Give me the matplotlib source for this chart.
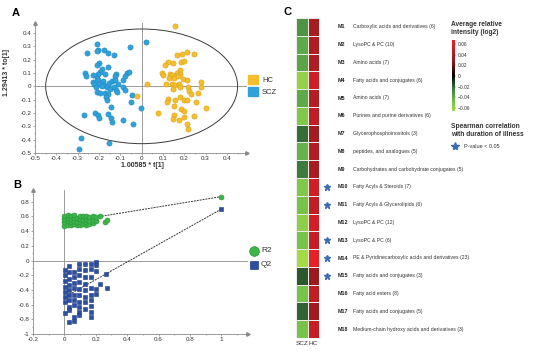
import numpy as np
import matplotlib
matplotlib.use('Agg')
import matplotlib.pyplot as plt
from matplotlib.patches import Ellipse, Rectangle
from matplotlib.colors import LinearSegmentedColormap, Normalize
from matplotlib.ticker import AutoMinorLocator
from matplotlib.lines import Line2D
import matplotlib.cm as cm

plt.rcParams['font.family'] = ['Liberation Sans', 'DejaVu Sans']
plt.rcParams['axes.unicode_minus'] = False

# ---------------- Data ----------------
# Panel A: OPLS-DA scores
scz_t = [-0.208, -0.203, -0.208, -0.258, -0.175, -0.156, -0.131, -0.055, -0.200, -0.207,
         -0.160, -0.188, -0.194, -0.203, -0.172, -0.266, -0.263, -0.227, -0.211, -0.120,
         -0.125, -0.070, -0.059, -0.078, -0.227, -0.203, -0.180, -0.175, -0.153, -0.141,
         -0.125, -0.110, -0.086, -0.222, -0.200, -0.214, -0.188, -0.164, -0.149, -0.128,
         -0.122, -0.117, -0.086, -0.078, -0.207, -0.196, -0.172, -0.160, -0.167, -0.161,
         -0.146, -0.047, -0.050, -0.269, -0.219, -0.203, -0.200, -0.160, -0.144, -0.141,
         -0.088, -0.042, -0.282, -0.293, -0.153, 0.020, -0.003]
scz_to = [0.320, 0.275, 0.265, 0.250, 0.270, 0.253, 0.235, 0.295, 0.175, 0.158,
          0.145, 0.133, 0.108, 0.095, 0.095, 0.100, 0.075, 0.083, 0.065, 0.095,
          0.075, 0.100, 0.108, 0.075, 0.033, 0.045, 0.040, 0.008, 0.025, 0.040,
          0.045, 0.020, 0.045, 0.015, 0.020, -0.005, 0.005, -0.005, -0.018, -0.005,
          -0.030, -0.043, -0.005, -0.030, -0.043, -0.050, -0.050, -0.060, -0.080, -0.105,
          -0.155, -0.068, -0.118, -0.213, -0.198, -0.218, -0.235, -0.205, -0.235, -0.268,
          -0.255, -0.285, -0.385, -0.468, -0.425, 0.330, -0.160]
hc_t = [0.156, 0.164, 0.188, 0.214, 0.246, 0.125, 0.110, 0.149, 0.183, 0.200,
        0.180, 0.097, 0.102, 0.133, 0.141, 0.164, 0.180, 0.130, 0.152, 0.172,
        0.195, 0.211, 0.279, 0.023, 0.114, 0.141, 0.156, 0.177, 0.146, 0.180,
        0.219, 0.279, 0.224, 0.230, 0.266, -0.020, 0.125, 0.117, 0.156, 0.180,
        0.200, 0.211, 0.255, 0.152, 0.075, 0.185, 0.199, 0.302, 0.152, 0.146,
        0.177, 0.199, 0.246, 0.211, 0.219]
hc_to = [0.453, 0.238, 0.245, 0.258, 0.245, 0.183, 0.158, 0.175, 0.183, 0.190,
         0.125, 0.100, 0.083, 0.095, 0.083, 0.100, 0.095, 0.065, 0.065, 0.075,
         0.058, 0.045, 0.033, 0.020, 0.015, 0.020, 0.008, 0.020, -0.018, -0.005,
         -0.005, -0.005, -0.035, -0.055, -0.050, -0.075, -0.093, -0.118, -0.100, -0.080,
         -0.100, -0.105, -0.118, -0.150, -0.200, -0.168, -0.185, -0.160, -0.218, -0.243,
         -0.250, -0.230, -0.225, -0.280, -0.318]

# Panel B: permutation test
r2_x = [0, 0, 0, 0, 0.02, 0.02, 0.02, 0.02, 0.04, 0.04, 0.04, 0.04, 0.06, 0.06, 0.06, 0.06,
        0.08, 0.08, 0.08, 0.10, 0.10, 0.10, 0.10, 0.12, 0.12, 0.12, 0.14, 0.14, 0.14, 0.14,
        0.16, 0.16, 0.16, 0.18, 0.18, 0.18, 0.20, 0.20, 0.23, 0.26, 0.27, 1.0]
r2_y = [0.47, 0.52, 0.56, 0.60, 0.49, 0.54, 0.58, 0.62, 0.48, 0.52, 0.57, 0.61, 0.50, 0.54, 0.58, 0.62,
        0.48, 0.53, 0.58, 0.49, 0.53, 0.57, 0.61, 0.50, 0.55, 0.60, 0.48, 0.52, 0.56, 0.60,
        0.50, 0.54, 0.59, 0.51, 0.55, 0.60, 0.54, 0.59, 0.60, 0.52, 0.55, 0.87]
q2_x = [0.002] * 8 + [0.028] * 10 + [0.06] * 9 + [0.092] * 10 + [0.131] * 8 + [0.168] * 9 + [0.2] * 5 \
       + [0.228, 0.265, 0.269, 1.0]
q2_y = [-0.135, -0.203, -0.284, -0.36, -0.428, -0.495, -0.563, -0.712,
        -0.068, -0.158, -0.248, -0.338, -0.405, -0.473, -0.54, -0.63, -0.676, -0.833,
        -0.158, -0.225, -0.302, -0.374, -0.464, -0.54, -0.608, -0.766, -0.82,
        -0.045, -0.122, -0.203, -0.293, -0.383, -0.473, -0.563, -0.63, -0.698, -0.743,
        -0.045, -0.135, -0.225, -0.315, -0.405, -0.495, -0.563, -0.653,
        -0.045, -0.122, -0.225, -0.374, -0.473, -0.54, -0.617, -0.698, -0.766,
        -0.014, -0.059, -0.149, -0.383, -0.45,
        -0.315, -0.18, -0.369, 0.70]
r2_intercept = 0.52
q2_intercept = -0.50

# Panel C: heatmap
module_ids = ['M1', 'M2', 'M3', 'M4', 'M5', 'M6', 'M7', 'M8', 'M9', 'M10', 'M11', 'M12',
              'M13', 'M14', 'M15', 'M16', 'M17', 'M18']
module_names = ['Carboxylic acids and derivatives (6)', 'LysoPC & PC (10)', 'Amino acids (7)',
                'Fatty acids and conjugates (6)', 'Amino acids (7)', 'Purines and purine derivatives (6)',
                'Glycerophosphoinositols (3)', 'peptides, and analogues (5)',
                'Carbohydrates and carbohydrate conjugates (5)', 'Fatty Acyls & Steroids (7)',
                'Fatty Acyls & Glycerolipids (6)', 'LysoPC & PC (12)', 'LysoPC & PC (6)',
                'PE & Pyridinecarboxylic acids and derivatives (23)', 'Fatty acids and conjugates (3)',
                'Fatty acid esters (8)', 'Fatty acids and conjugates (5)',
                'Medium-chain hydroxy acids and derivatives (3)']
scz_vals = [-0.033, -0.040, -0.038, -0.060, -0.040, -0.053, -0.022, -0.043, -0.025, -0.053,
            -0.050, -0.058, -0.050, -0.066, -0.018, -0.050, -0.020, -0.050]
hc_vals = [0.040, 0.043, 0.042, 0.055, 0.045, 0.050, 0.038, 0.045, 0.040, 0.055,
           0.050, 0.057, 0.052, 0.065, 0.034, 0.050, 0.037, 0.052]
significant = [False] * 9 + [True, True, False, True, True, True, False, False, False]
cbar_ticks = [0.06, 0.04, 0.02, 0, -0.02, -0.04, -0.06]

# ---------------- Figure ----------------
W, H = 553, 356
fig = plt.figure(figsize=(W / 100, H / 100), dpi=100)


def fr(l, t, r, b):
    return [l / W, 1 - b / H, (r - l) / W, (b - t) / H]


def fmt(v):
    if abs(v) < 1e-9:
        return '0'
    return f'{v:.1f}'


axis_col = '#8a8a8a'
tick_fs = 4.5

# ---- Panel A ----
axA = fig.add_axes(fr(35, 23, 247, 153))
axA.set_xlim(-0.5, 0.494)
axA.set_ylim(-0.5, 0.475)
for s in ['top', 'right']:
    axA.spines[s].set_visible(False)
for s in ['left', 'bottom']:
    axA.spines[s].set_color(axis_col)
    axA.spines[s].set_linewidth(0.6)
axA.axhline(0, color=axis_col, lw=0.6, zorder=1)
axA.axvline(0, color=axis_col, lw=0.6, zorder=1)
axA.add_patch(Ellipse((0, 0), 0.9, 0.86, fill=False, edgecolor='#3a3a3a', lw=0.7, zorder=2))
axA.scatter(scz_t, scz_to, s=14, color='#2FA2DB', edgecolors='#1C86BF', linewidths=0.4, zorder=3)
axA.scatter(hc_t, hc_to, s=14, color='#F4BE2C', edgecolors='#D9A01A', linewidths=0.4, zorder=3)
xt = np.round(np.arange(-0.5, 0.41, 0.1), 2)
yt = np.round(np.arange(-0.5, 0.41, 0.1), 2)
axA.set_xticks(xt)
axA.set_xticklabels([fmt(v) for v in xt])
axA.set_yticks(yt)
axA.set_yticklabels([fmt(v) for v in yt])
axA.xaxis.set_minor_locator(AutoMinorLocator(2))
axA.yaxis.set_minor_locator(AutoMinorLocator(2))
axA.tick_params(which='both', labelsize=tick_fs, colors=axis_col, labelcolor='#333333', length=1.6, width=0.5, pad=0.8)
axA.tick_params(which='minor', length=1.0)
axA.plot(1, 0, '>', transform=axA.transAxes, clip_on=False, ms=2.5, color=axis_col)
axA.plot(0, 1, '^', transform=axA.transAxes, clip_on=False, ms=2.5, color=axis_col)
fig.text(142 / W, 1 - 165 / H, '1.00585 * t[1]', fontsize=5.0, fontweight='bold', ha='center', va='center', color='#333333')
fig.text(7 / W, 1 - 72 / H, '1.29413 * to[1]', fontsize=5.0, fontweight='bold', ha='center', va='center',
         rotation=90, color='#333333')
# legend A
fig.patches.append(Rectangle((248 / W, 1 - 84 / H), 10 / W, 9 / H, transform=fig.transFigure,
                             color='#F4BE2C', figure=fig))
fig.patches.append(Rectangle((248 / W, 1 - 96 / H), 10 / W, 9 / H, transform=fig.transFigure,
                             color='#2FA2DB', figure=fig))
fig.text(262 / W, 1 - 80 / H, 'HC', fontsize=5.5, ha='left', va='center', color='#333333')
fig.text(262 / W, 1 - 92 / H, 'SCZ', fontsize=5.5, ha='left', va='center', color='#333333')

# ---- Panel B ----
axB = fig.add_axes(fr(33, 190, 248, 334))
axB.set_xlim(-0.2, 1.17)
axB.set_ylim(-1, 0.96)
for s in ['top', 'right']:
    axB.spines[s].set_visible(False)
for s in ['left', 'bottom']:
    axB.spines[s].set_color(axis_col)
    axB.spines[s].set_linewidth(0.6)
axB.axhline(0, color=axis_col, lw=0.6, zorder=1)
axB.axvline(0, color=axis_col, lw=0.6, zorder=1)
axB.plot([0, 1], [r2_intercept, r2_y[-1]], color='#333333', lw=0.7, dashes=(2, 1), zorder=2)
axB.plot([0, 1], [q2_intercept, q2_y[-1]], color='#333333', lw=0.7, dashes=(2, 1), zorder=2)
axB.scatter(r2_x, r2_y, s=13, marker='o', color='#3DB54A', edgecolors='#2A9438', linewidths=0.4, zorder=3)
axB.scatter(q2_x, q2_y, s=11, marker='s', color='#2C4FA0', edgecolors='#1E3C86', linewidths=0.4, zorder=3)
bxt = np.round(np.arange(-0.2, 1.01, 0.2), 2)
byt = np.round(np.arange(-1, 0.81, 0.2), 2)
axB.set_xticks(bxt)
axB.set_xticklabels(['1' if abs(v - 1) < 1e-9 else fmt(v) for v in bxt])
axB.set_yticks(byt)
axB.set_yticklabels(['-1' if abs(v + 1) < 1e-9 else fmt(v) for v in byt])
axB.xaxis.set_minor_locator(AutoMinorLocator(2))
axB.yaxis.set_minor_locator(AutoMinorLocator(2))
axB.tick_params(which='both', labelsize=tick_fs, colors=axis_col, labelcolor='#333333', length=1.6, width=0.5, pad=0.8)
axB.tick_params(which='minor', length=1.0)
axB.plot(1, 0, '>', transform=axB.transAxes, clip_on=False, ms=2.5, color=axis_col)
axB.plot(0, 1, '^', transform=axB.transAxes, clip_on=False, ms=2.5, color=axis_col)
# legend B
fig.add_artist(Line2D([254 / W], [1 - 251 / H], marker='o', ms=7, color='#3DB54A', mec='#2A9438',
                      mew=0.5, transform=fig.transFigure, linestyle='none'))
fig.add_artist(Line2D([254 / W], [1 - 265 / H], marker='s', ms=6, color='#2C4FA0', mec='#1E3C86',
                      mew=0.5, transform=fig.transFigure, linestyle='none'))
fig.text(261 / W, 1 - 251 / H, 'R2', fontsize=6, ha='left', va='center', color='#333333')
fig.text(261 / W, 1 - 265 / H, 'Q2', fontsize=6, ha='left', va='center', color='#333333')

# ---- Panel C ----
cmap = LinearSegmentedColormap.from_list('rg', [(0.0, '#A5DA45'), (0.15, '#6CBB4C'), (0.3, '#3F7F3F'),
                                                (0.5, '#000000'), (0.7, '#8B1A1E'), (0.85, '#B81E24'),
                                                (1.0, '#EE2028')])
norm = Normalize(vmin=-0.066, vmax=0.0675)
axC = fig.add_axes(fr(296, 18, 319, 338))
vals = np.column_stack([scz_vals, hc_vals])
axC.pcolormesh(np.arange(3), np.arange(len(module_ids) + 1), vals, cmap=cmap, norm=norm,
               edgecolors='#ececec', linewidth=0.5)
axC.set_xlim(0, 2)
axC.set_ylim(len(module_ids), 0)
for s in axC.spines.values():
    s.set_visible(False)
axC.set_yticks([])
axC.set_xticks([0.5, 1.5])
axC.set_xticklabels(['SCZ', 'HC'])
axC.tick_params(axis='x', length=0, labelsize=4.6, pad=2, labelcolor='#333333')
tr = axC.get_yaxis_transform()
for i, (mid, name, sig) in enumerate(zip(module_ids, module_names, significant)):
    y = i + 0.5
    axC.text((338 - 296) / 23, y, mid, transform=tr, fontsize=3.9, fontweight='bold', ha='left', va='center',
             color='#222222')
    axC.text((353 - 296) / 23, y, name, transform=tr, fontsize=3.7, ha='left', va='center', color='#333333')
    if sig:
        axC.plot((327 - 296) / 23, y, marker='*', ms=5, color='#3C6DB4', transform=tr, clip_on=False)

cax = fig.add_axes(fr(451.7, 40, 455.3, 111))
sm = cm.ScalarMappable(norm=norm, cmap=cmap)
cb = fig.colorbar(sm, cax=cax)
cb.outline.set_visible(False)
cb.set_ticks(cbar_ticks)
cb.set_ticklabels([('\u2212' + f'{abs(v):.2f}') if v < 0 else ('0' if v == 0 else f'{v:.2f}') for v in cbar_ticks])
cax.tick_params(labelsize=3.5, length=1, width=0.3, pad=1, colors='#333333')

fig.text(451 / W, 1 - 21 / H, 'Average relative\nintensity (log2)', fontsize=4.8, fontweight='bold',
         ha='left', va='top', color='#333333', linespacing=1.15)
fig.text(451 / W, 1 - 123 / H, 'Spearman correlation\nwith duration of illness', fontsize=4.8,
         fontweight='bold', ha='left', va='top', color='#333333', linespacing=1.15)
fig.add_artist(Line2D([455 / W], [1 - 146 / H], marker='*', ms=6, color='#3C6DB4',
                      transform=fig.transFigure, linestyle='none'))
fig.text(464 / W, 1 - 146 / H, 'P-value < 0.05', fontsize=4, ha='left', va='center', color='#333333')

# panel letters
fig.text(16 / W, 1 - 13 / H, 'A', fontsize=8, fontweight='bold', ha='center', va='center')
fig.text(17 / W, 1 - 185 / H, 'B', fontsize=8, fontweight='bold', ha='center', va='center')
fig.text(288 / W, 1 - 12 / H, 'C', fontsize=8, fontweight='bold', ha='center', va='center')

fig.savefig('out.png', dpi=100)
